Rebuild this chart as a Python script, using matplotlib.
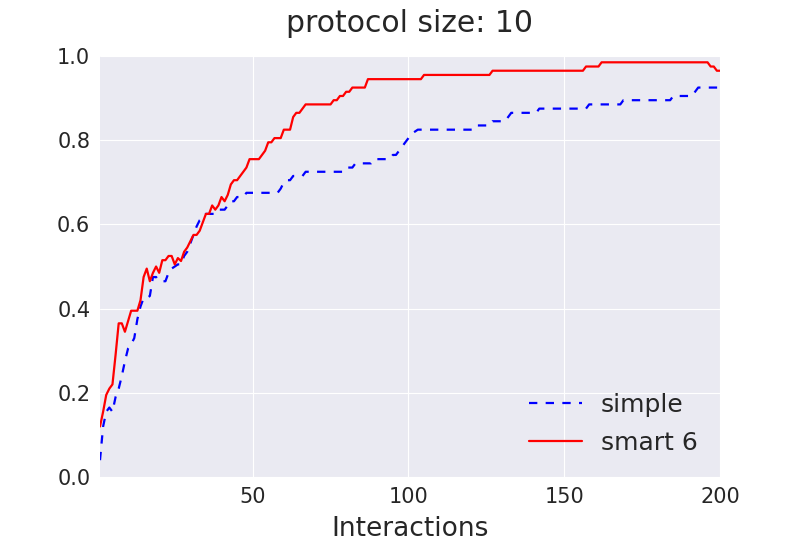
import matplotlib
matplotlib.use("Agg")
import matplotlib.pyplot as plt
import seaborn as sns
import numpy as np

interactions = list(range(1, 201))

simple = (
    [0.04, 0.12, 0.155, 0.165, 0.155, 0.19, 0.21, 0.24, 0.275, 0.305,
     0.315, 0.33, 0.375, 0.405, 0.425, 0.425, 0.43, 0.475, 0.475, 0.465,
     0.465, 0.465, 0.485, 0.495, 0.50, 0.505, 0.505, 0.525, 0.535, 0.555,
     0.575, 0.595, 0.61, 0.615, 0.625, 0.625, 0.625, 0.625, 0.635, 0.635,
     0.635, 0.645, 0.655, 0.655, 0.665, 0.665, 0.665, 0.675, 0.675, 0.675,
     0.675, 0.675, 0.675, 0.675, 0.675, 0.675, 0.675, 0.675, 0.685, 0.70,
     0.705, 0.705, 0.715, 0.715, 0.715, 0.715, 0.725, 0.725, 0.725, 0.725,
     0.725, 0.725, 0.725, 0.725, 0.725, 0.725, 0.725, 0.725, 0.725, 0.735,
     0.735, 0.735, 0.745, 0.745, 0.745, 0.745, 0.745, 0.745, 0.755, 0.755,
     0.755, 0.755, 0.755, 0.755, 0.765, 0.765, 0.775, 0.785, 0.795, 0.805,
     0.815, 0.82, 0.825, 0.825, 0.825, 0.825, 0.825, 0.825, 0.825, 0.825,
     0.825, 0.825, 0.825, 0.825, 0.825, 0.825, 0.825, 0.825, 0.825, 0.825,
     0.825, 0.835, 0.835, 0.835, 0.835, 0.835, 0.845, 0.845, 0.845, 0.845,
     0.845, 0.855, 0.865, 0.865, 0.865, 0.865, 0.865, 0.865, 0.865, 0.865,
     0.865, 0.875, 0.875, 0.875, 0.875, 0.875, 0.875, 0.875, 0.875, 0.875,
     0.875, 0.875, 0.875, 0.875, 0.875, 0.875, 0.875, 0.885, 0.885, 0.885,
     0.885, 0.885, 0.885, 0.885, 0.885, 0.885, 0.885, 0.885, 0.895, 0.895,
     0.895, 0.895, 0.895, 0.895, 0.895, 0.895, 0.895, 0.895, 0.895, 0.895,
     0.895, 0.895, 0.895, 0.895, 0.905, 0.905, 0.905, 0.905, 0.905, 0.905,
     0.905, 0.915, 0.925, 0.925, 0.925, 0.925, 0.925, 0.925, 0.925, 0.925]
)

smart6 = (
    [0.12, 0.155, 0.195, 0.21, 0.22, 0.29, 0.365, 0.365, 0.345, 0.37,
     0.395, 0.395, 0.395, 0.42, 0.475, 0.495, 0.465, 0.485, 0.50, 0.485,
     0.515, 0.515, 0.525, 0.525, 0.505, 0.52, 0.513, 0.535, 0.545, 0.56,
     0.575, 0.575, 0.585, 0.605, 0.625, 0.625, 0.645, 0.635, 0.645, 0.665,
     0.655, 0.67, 0.695, 0.705, 0.705, 0.715, 0.725, 0.735, 0.755, 0.755,
     0.755, 0.755, 0.765, 0.775, 0.795, 0.795, 0.805, 0.805, 0.805, 0.825,
     0.825, 0.825, 0.855, 0.865, 0.865, 0.875, 0.885, 0.885, 0.885, 0.885,
     0.885, 0.885, 0.885, 0.885, 0.885, 0.895, 0.895, 0.905, 0.905, 0.915,
     0.915, 0.925, 0.925, 0.925, 0.925, 0.925, 0.945, 0.945, 0.945, 0.945,
     0.945, 0.945, 0.945, 0.945, 0.945, 0.945, 0.945, 0.945, 0.945, 0.945,
     0.945, 0.945, 0.945, 0.945, 0.955, 0.955, 0.955, 0.955, 0.955, 0.955,
     0.955, 0.955, 0.955, 0.955, 0.955, 0.955, 0.955, 0.955, 0.955, 0.955,
     0.955, 0.955, 0.955, 0.955, 0.955, 0.955, 0.965, 0.965, 0.965, 0.965,
     0.965, 0.965, 0.965, 0.965, 0.965, 0.965, 0.965, 0.965, 0.965, 0.965,
     0.965, 0.965, 0.965, 0.965, 0.965, 0.965, 0.965, 0.965, 0.965, 0.965,
     0.965, 0.965, 0.965, 0.965, 0.965, 0.965, 0.975, 0.975, 0.975, 0.975,
     0.975, 0.985, 0.985, 0.985, 0.985, 0.985, 0.985, 0.985, 0.985, 0.985,
     0.985, 0.985, 0.985, 0.985, 0.985, 0.985, 0.985, 0.985, 0.985, 0.985,
     0.985, 0.985, 0.985, 0.985, 0.985, 0.985, 0.985, 0.985, 0.985, 0.985,
     0.985, 0.985, 0.985, 0.985, 0.985, 0.985, 0.975, 0.975, 0.965, 0.965]
)

series_labels = ["simple", "smart 6"]
title = "protocol size: 10"
xlabel = "Interactions"
xticks = [50, 100, 150, 200]
yticks = [0.0, 0.2, 0.4, 0.6, 0.8, 1.0]

sns.set_style("darkgrid")
plt.rcParams["font.family"] = ["DejaVu Sans"]
plt.rcParams["lines.scale_dashes"] = False

fig = plt.figure(figsize=(8, 5.5), dpi=100)
ax = fig.add_axes([0.125, 0.1327, 0.775, 0.7655])

ax.plot(interactions, simple, color="#0000ff", linestyle=(0, (6, 6)),
        linewidth=1.6, label=series_labels[0])
ax.plot(interactions, smart6, color="#ff0000", linestyle="-",
        linewidth=1.6, label=series_labels[1])

ax.set_xlim(1, 200)
ax.set_ylim(0, 1.0)
ax.set_xticks(xticks)
ax.set_yticks(yticks)
ax.set_yticklabels([f"{v:.1f}" for v in yticks])
ax.tick_params(axis="both", labelsize=15, colors="#262626", pad=7, length=0)
ax.set_title(title, fontsize=21.5, color="#262626", pad=17.5)
ax.set_xlabel(xlabel, fontsize=19, color="#262626", labelpad=7)
for s in ax.spines.values():
    s.set_visible(False)

leg = ax.legend(loc="lower right", frameon=False, fontsize=18,
                handlelength=2.1, handletextpad=0.75, labelspacing=0.55,
                borderaxespad=0.5)
for t in leg.get_texts():
    t.set_color("#262626")

fig.savefig("out.png", dpi=100)
